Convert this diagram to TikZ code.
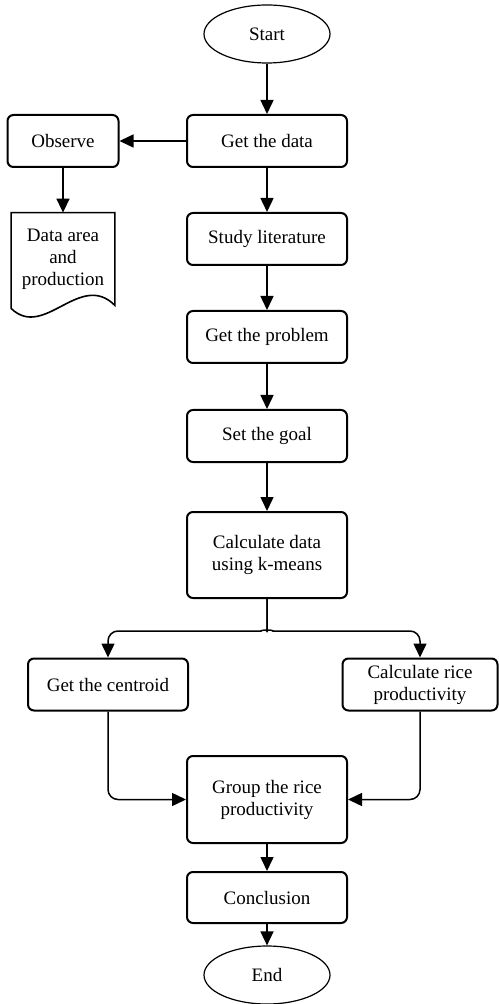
\documentclass[tikz,border=0pt]{standalone}
\usepackage{fontspec}
\setmainfont{Liberation Serif}
\usetikzlibrary{shapes}
\usetikzlibrary{arrows.meta}

\tikzset{
	stepbox/.style={draw, rectangle, rounded corners=3pt, line width=1pt, minimum width=80pt, minimum height=26pt, align=center, inner sep=1pt, font=\fontsize{9.5}{11}\selectfont},
	term/.style={draw, ellipse, line width=0.6pt, minimum width=63pt, minimum height=29pt, font=\fontsize{9.5}{11}\selectfont},
	flow/.style={-{Triangle[length=7pt,width=6.5pt]}, line width=0.75pt, rounded corners=5pt},
}

\begin{document}
\begin{tikzpicture}[x=0.5pt,y=-0.5pt]
	\useasboundingbox (0,0) rectangle (498,1004);
	\node[term] (start) at (267,34) {Start};
	\node[stepbox] (data) at (267,141) {Get the data};
	\node[stepbox, minimum width=55.5pt] (obs) at (63,141) {Observe};
	\node[align=center, inner sep=0pt, minimum width=51.5pt, minimum height=46pt, font=\fontsize{9.5}{11}\selectfont] (doc) at (63,259) {Data area\\and\\production};
	\node[stepbox] (lit) at (267,239) {Study literature};
	\node[stepbox] (prob) at (267,337) {Get the problem};
	\node[stepbox] (goal) at (267,436) {Set the goal};
	\node[stepbox, minimum height=43pt] (calc) at (267,555) {Calculate data\\using k-means};
	\node[stepbox] (cent) at (108,684.5) {Get the centroid};
	\node[stepbox, minimum width=77.5pt] (rice) at (420,684.5) {Calculate rice\\productivity};
	\node[stepbox, minimum height=43.5pt] (group) at (267,799.5) {Group the rice\\productivity};
	\node[stepbox, minimum height=25.5pt] (concl) at (267,897.5) {Conclusion};
	\node[term] (end) at (267,975) {End};

	% document shape
	\draw[line width=0.8pt] (doc.south west) ++(0,3) .. controls +(33,32) and +(-35,-35) .. (doc.south east) -- (doc.north east) -- (doc.north west) -- cycle;

	\draw[flow] (start) -- (data);
	\draw[flow] (data) -- (obs);
	\draw[flow] (obs) -- (doc.north);
	\draw[flow] (data) -- (lit);
	\draw[flow] (lit) -- (prob);
	\draw[flow] (prob) -- (goal);
	\draw[flow] (goal) -- (calc);
	\draw[flow] (calc.south) -- ++(0,22) .. controls +(0,8) and +(8,0) .. ++(-16,10) -| (cent.north);
	\draw[flow] (calc.south) -- ++(0,22) .. controls +(0,8) and +(-8,0) .. ++(16,10) -| (rice.north);
	\draw[flow] (cent.south) |- (group.west);
	\draw[flow] (rice.south) |- (group.east);
	\draw[flow] (group) -- (concl);
	\draw[flow] (concl) -- (end);
\end{tikzpicture}
\end{document}
